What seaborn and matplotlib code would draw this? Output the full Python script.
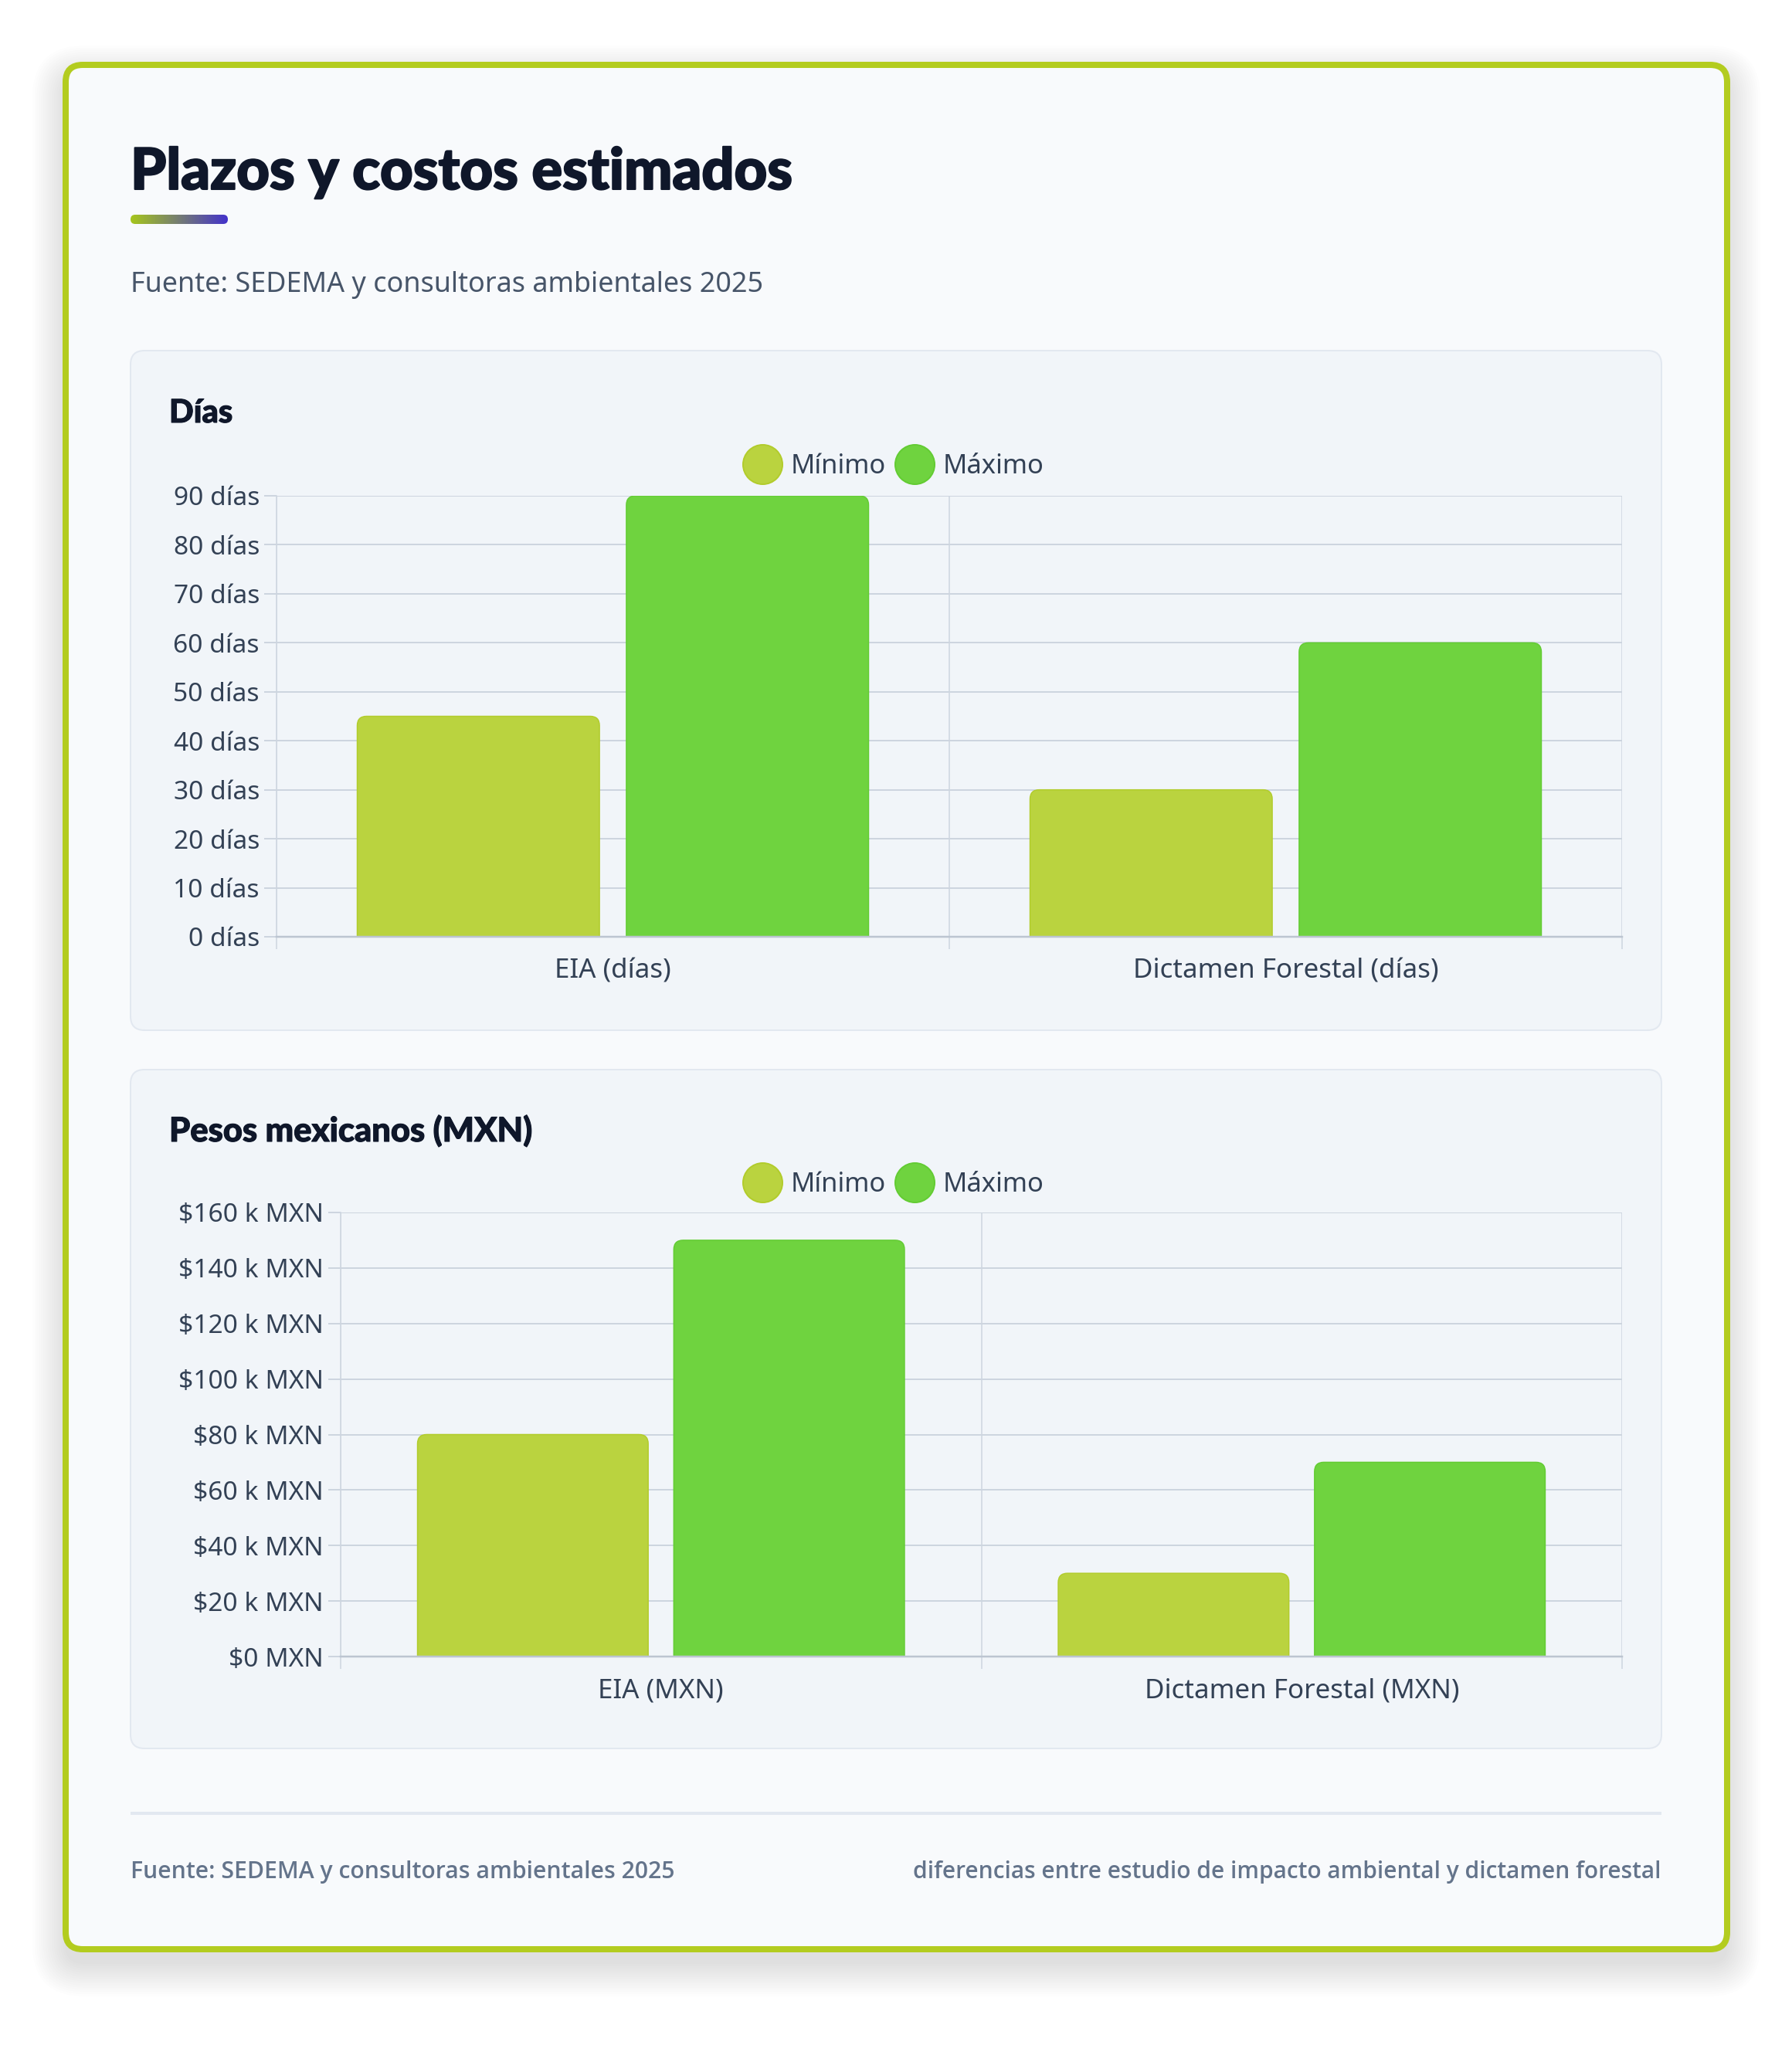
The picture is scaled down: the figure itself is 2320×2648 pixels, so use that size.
import numpy as np
import pandas as pd
import matplotlib
matplotlib.use("Agg")
import matplotlib.pyplot as plt
import seaborn as sns
from matplotlib.patches import FancyBboxPatch
from matplotlib.lines import Line2D
from matplotlib.ticker import FixedLocator, FuncFormatter
from matplotlib.colors import LinearSegmentedColormap
from matplotlib import font_manager as fm
import matplotlib.patheffects as pe

# ---------------- data ----------------
series = ["Mínimo", "Máximo"]
categorias_dias = ["EIA (días)", "Dictamen Forestal (días)"]
dias_min = [45, 30]
dias_max = [90, 60]
categorias_mxn = ["EIA (MXN)", "Dictamen Forestal (MXN)"]
mxn_min = [80000, 30000]
mxn_max = [150000, 70000]
ticks_dias = [0, 10, 20, 30, 40, 50, 60, 70, 80, 90]
ticks_mxn = [0, 20000, 40000, 60000, 80000, 100000, 120000, 140000, 160000]

titulo = "Plazos y costos estimados"
subtitulo = "Fuente: SEDEMA y consultoras ambientales 2025"
titulo_dias = "Días"
titulo_mxn = "Pesos mexicanos (MXN)"
pie_izq = "Fuente: SEDEMA y consultoras ambientales 2025"
pie_der = "diferencias entre estudio de impacto ambiental y dictamen forestal"

# ---------------- style ----------------
sns.set_style("white")
plt.rcParams["font.family"] = ["Noto Sans", "DejaVu Sans"]

W, H = 2320, 2648
PT = 0.72  # px -> pt at dpi 100


def _w(f):
    w = f.weight
    if isinstance(w, str):
        w = fm.weight_dict.get(w, 400)
    return int(w)


def pick_font(fams, wmin, wmax):
    for fam in fams:
        c = [f for f in fm.fontManager.ttflist
             if f.name == fam and f.style == "normal" and wmin <= _w(f) <= wmax]
        if c:
            c.sort(key=lambda f: -_w(f))
            return fm.FontProperties(fname=c[0].fname), True
    return None, False


heavy_fp, heavy_ok = pick_font(["Lato", "Roboto", "Noto Sans", "Open Sans", "Inter"], 800, 1000)
if not heavy_ok:
    heavy_fp = fm.FontProperties(family=["Lato", "DejaVu Sans"], weight="bold")
semi_fp, semi_ok = pick_font(["Noto Sans", "Open Sans"], 500, 650)
if not semi_ok:
    semi_fp = fm.FontProperties(family=["Noto Sans", "DejaVu Sans"], weight="bold")

col_min_fill = "#bad33f"
col_min_edge = "#b2cc2c"
col_max_fill = "#6fd33f"
col_max_edge = "#63cc33"
grid_col = "#cdd5df"
axis_col = "#bcc5d1"
tick_txt = "#334155"

fig = plt.figure(figsize=(W / 100, H / 100), dpi=100)
fig.patch.set_facecolor("white")
renderer = fig.canvas.get_renderer()

bg = fig.add_axes([0, 0, 1, 1], zorder=0)
bg.set_xlim(0, W)
bg.set_ylim(H, 0)
bg.axis("off")


def rbox(x0, y0, x1, y1, r, **kw):
    p = FancyBboxPatch((x0, y0), x1 - x0, y1 - y0,
                       boxstyle=f"round,pad=0,rounding_size={r}", **kw)
    bg.add_patch(p)
    return p


def fit(t, target):
    for _ in range(3):
        bb = t.get_window_extent(renderer=renderer)
        t.set_fontsize(t.get_fontsize() * target / bb.width)


# card shadow
N = 16
for i in range(N):
    s = 1 + i * 2.8
    rbox(85 - s, 84 - s + 18, 2236 + s, 2524 + s + 18, 24 + s,
         facecolor="black", edgecolor="none", alpha=0.0075)

# card
rbox(85, 84, 2236, 2524, 22, facecolor="#f8fafc", edgecolor="#b3cc1f",
     linewidth=8 * PT)

# panels
for (y0, y1) in [(454, 1334), (1385, 2264)]:
    rbox(169, y0, 2151, y1, 18, facecolor="#f1f5f9", edgecolor="#e2e8f0",
         linewidth=2 * PT)

sw_t = 1.5 if heavy_ok else 4.6
sw_h = 0.8 if heavy_ok else 2.8
stroke = [pe.withStroke(linewidth=sw_t, foreground="#0f172a")]
stroke_h = [pe.withStroke(linewidth=sw_h, foreground="#0f172a")]

# title
t = bg.text(169, 245, titulo, fontproperties=heavy_fp, color="#0f172a",
            va="baseline", ha="left", path_effects=stroke)
t.set_fontsize(52)
fit(t, 856)

# gradient bar
grad = np.linspace(0, 1, 256)[None, :]
cmap = LinearSegmentedColormap.from_list("g", ["#a6c61c", "#4332cb"])
im = bg.imshow(grad, cmap=cmap, extent=[169, 295, 290, 278], aspect="auto",
               zorder=2)
clip = rbox(169, 278, 295, 290, 6, facecolor="none", edgecolor="none")
im.set_clip_path(clip)

t = bg.text(169, 378, subtitulo, fontsize=35 * PT, color="#475569",
            va="baseline", ha="left")
fit(t, 819)

# panel headings
t = bg.text(219, 547, titulo_dias, fontproperties=heavy_fp, color="#0f172a",
            va="baseline", ha="left", path_effects=stroke_h)
t.set_fontsize(37 * PT)
fit(t, 82)
fs_head = t.get_fontsize()
t = bg.text(219, 1478, titulo_mxn, fontproperties=heavy_fp, color="#0f172a",
            va="baseline", ha="left", path_effects=stroke_h)
t.set_fontsize(37 * PT)
fit(t, 470)
t.set_fontsize(min(t.get_fontsize(), fs_head * 1.12))

# footer
bg.plot([169, 2151], [2348, 2348], color="#e2e8f0", linewidth=4 * PT,
        solid_capstyle="butt")
t = bg.text(169, 2432, pie_izq, fontproperties=semi_fp, color="#64748b",
            va="baseline", ha="left")
t.set_fontsize(31 * PT)
fit(t, 704)
t = bg.text(2151, 2432, pie_der, fontproperties=semi_fp, color="#64748b",
            va="baseline", ha="right")
t.set_fontsize(31 * PT)
fit(t, 969)


def make_axes(left, right, top, bottom):
    return fig.add_axes([left / W, 1 - bottom / H, (right - left) / W,
                         (bottom - top) / H], zorder=1)


def draw_chart(ax, cats, vmin, vmax, ticks, fmt, ymax, legend_cy, px_box):
    df = pd.DataFrame({
        "cat": cats * 2,
        "val": list(vmin) + list(vmax),
        "serie": [series[0]] * len(cats) + [series[1]] * len(cats),
    })
    sns.barplot(data=df, x="cat", y="val", hue="serie", hue_order=series,
                order=cats, palette=[col_min_fill, col_max_fill],
                saturation=1, width=0.8, gap=0.1, legend=False, ax=ax,
                errorbar=None, zorder=3)
    ax.set_facecolor("none")
    ax.set_xlim(-0.5, len(cats) - 0.5)
    ax.set_ylim(0, ymax)

    # rounded top corners
    wpx, hpx = px_box
    pxx = wpx / len(cats)
    pxy = hpx / ymax
    r = 12 / pxx
    asp = pxx / pxy
    for p in list(ax.patches):
        x, y, w, h = p.get_x(), p.get_y(), p.get_width(), p.get_height()
        fc = p.get_facecolor()
        ec = col_min_edge if np.allclose(fc[:3], matplotlib.colors.to_rgb(col_min_fill)) else col_max_edge
        p.remove()
        extra = 30 / pxy
        fb = FancyBboxPatch((x, y - extra), w, h + extra,
                            boxstyle=f"round,pad=0,rounding_size={r}",
                            mutation_aspect=asp, facecolor=fc, edgecolor=ec,
                            linewidth=1.5 * PT, zorder=3)
        ax.add_patch(fb)

    ax.set_xlabel("")
    ax.set_ylabel("")
    ax.yaxis.set_major_locator(FixedLocator(ticks))
    ax.yaxis.set_major_formatter(FuncFormatter(fmt))
    ax.xaxis.set_minor_locator(FixedLocator([i - 0.5 for i in range(len(cats) + 1)]))
    ax.grid(True, axis="y", which="major", color=grid_col, linewidth=2 * PT, zorder=0)
    ax.grid(True, axis="x", which="minor", color=grid_col, linewidth=1.5 * PT, zorder=0)
    ax.grid(False, axis="x", which="major")
    ax.set_axisbelow(True)
    ax.tick_params(axis="y", which="major", length=16 * PT, width=2 * PT,
                   color=grid_col, pad=6 * PT, labelsize=33.5 * PT,
                   labelcolor=tick_txt, left=True)
    ax.tick_params(axis="x", which="major", length=0, pad=28 * PT,
                   labelsize=35 * PT, labelcolor=tick_txt)
    ax.tick_params(axis="x", which="minor", length=16 * PT, width=1.5 * PT,
                   color=grid_col, bottom=True)
    for s in ["top", "right"]:
        ax.spines[s].set_visible(False)
    ax.spines["left"].set_color(grid_col)
    ax.spines["left"].set_linewidth(1.5 * PT)
    ax.spines["bottom"].set_color(axis_col)
    ax.spines["bottom"].set_linewidth(2.5 * PT)
    ax.spines["bottom"].set_zorder(4)

    handles = [
        Line2D([0], [0], marker="o", linestyle="", markersize=51 * PT,
               markerfacecolor=col_min_fill, markeredgecolor=col_min_edge,
               markeredgewidth=2 * PT),
        Line2D([0], [0], marker="o", linestyle="", markersize=51 * PT,
               markerfacecolor=col_max_fill, markeredgecolor=col_max_edge,
               markeredgewidth=2 * PT),
    ]
    leg = ax.legend(handles, series, loc="center",
                    bbox_to_anchor=(1157 / W, 1 - legend_cy / H),
                    bbox_transform=fig.transFigure, ncol=2, frameon=False,
                    handlelength=1.45, handletextpad=0.33, columnspacing=0.36,
                    borderpad=0, borderaxespad=0,
                    prop={"size": 34.5 * PT})
    for tx in leg.get_texts():
        tx.set_color(tick_txt)


ax1 = make_axes(358, 2100, 642, 1213)
draw_chart(ax1, categorias_dias, dias_min, dias_max, ticks_dias,
           lambda v, pos: f"{v:.0f} días", 90, 604, (2100 - 358, 1213 - 642))

ax2 = make_axes(441, 2100, 1570, 2145)
draw_chart(ax2, categorias_mxn, mxn_min, mxn_max, ticks_mxn,
           lambda v, pos: (f"${v / 1000:.0f} k MXN" if v else "$0 MXN"),
           160000, 1534, (2100 - 441, 2145 - 1570))

fig.savefig("out.png", dpi=100, facecolor="white")
